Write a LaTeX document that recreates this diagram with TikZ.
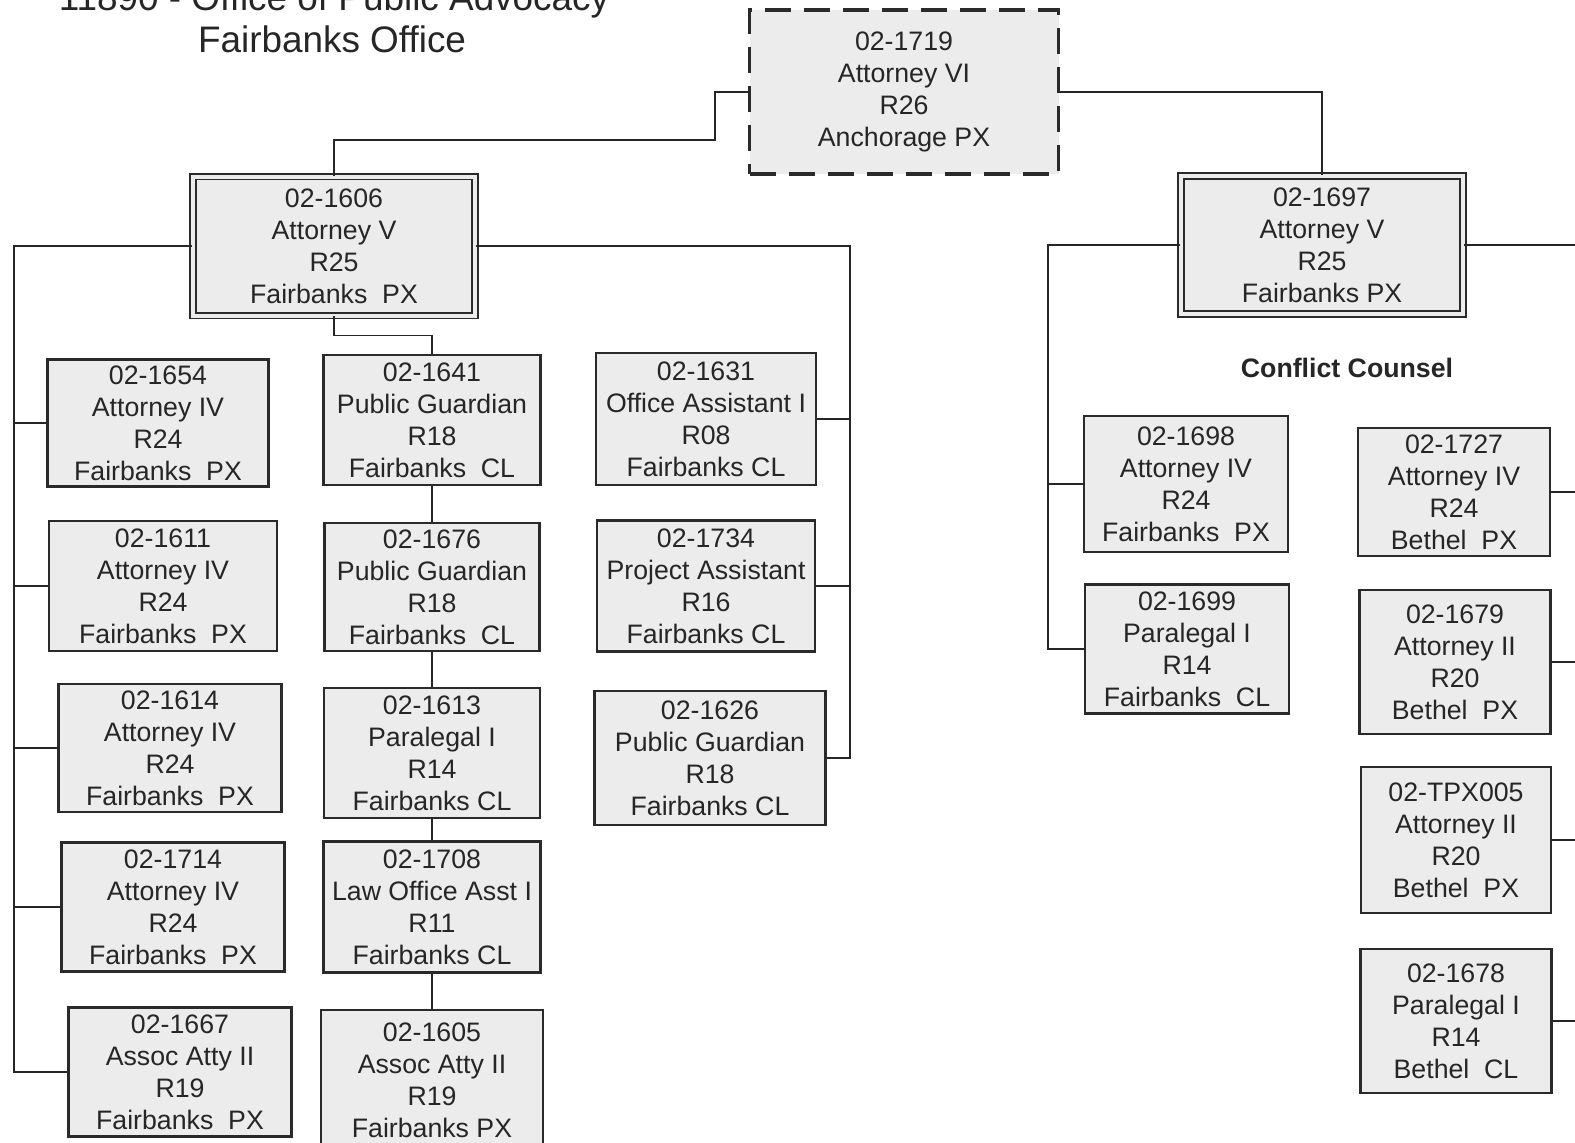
\documentclass[tikz,border=0pt]{standalone}
\usepackage{fontspec}
\setmainfont{Liberation Sans}
\definecolor{boxfill}{RGB}{236,236,236}
\definecolor{boxline}{RGB}{42,42,42}
\definecolor{ink}{RGB}{38,38,38}
\tikzset{
  posbox/.style={draw=boxline, fill=boxfill, line width=0.8pt, align=center, text=ink,
    font=\fontsize{7.6}{9.1}\selectfont, inner sep=1pt},
  headbox/.style={posbox, double=boxfill, double distance=0.4mm, line width=0.55pt},
  chiefbox/.style={posbox, dash pattern=on 2.6mm off 1.3mm, line width=0.9pt},
  link/.style={draw=ink, line width=0.45pt},
  heading/.style={text=ink, font=\fontsize{10.5}{12.8}\selectfont, anchor=base},
}

\begin{document}
\begin{tikzpicture}[x=0.1mm,y=-0.1mm]
\useasboundingbox (0,0) rectangle (1575,1142);
\fill[white] (0,0) rectangle (1575,1142);
\clip (0,0) rectangle (1575,1142);

% title
\node[heading] (titleA) at (334,10) {11890 - Office of Public Advocacy};
\node[heading] (titleB) at (332,52) {Fairbanks Office};

% director
\node[chiefbox, minimum width=30.9mm, minimum height=16.4mm] (p1719) at (904,92)
  {02-1719\\Attorney VI\\R26\\Anchorage PX};

% supervisors
\node[headbox, minimum width=28.2mm, minimum height=13.9mm] (p1606) at (334,246)
  {02-1606\\Attorney V\\R25\\Fairbanks\ \ PX};
\node[headbox, minimum width=28.2mm, minimum height=13.8mm] (p1697) at (1322,245)
  {02-1697\\Attorney V\\R25\\Fairbanks PX};

% first column
\node[posbox, minimum width=22.1mm, minimum height=12.7mm] (p1654) at (158,423)
  {02-1654\\Attorney IV\\R24\\Fairbanks\ \ PX};
\node[posbox, minimum width=22.8mm, minimum height=13.0mm] (p1611) at (163,586)
  {02-1611\\Attorney IV\\R24\\Fairbanks\ \ PX};
\node[posbox, minimum width=22.3mm, minimum height=12.8mm] (p1614) at (170,748)
  {02-1614\\Attorney IV\\R24\\Fairbanks\ \ PX};
\node[posbox, minimum width=22.3mm, minimum height=12.9mm] (p1714) at (173,907)
  {02-1714\\Attorney IV\\R24\\Fairbanks\ \ PX};
\node[posbox, minimum width=22.3mm, minimum height=12.9mm] (p1667) at (180,1072)
  {02-1667\\Assoc Atty II\\R19\\Fairbanks\ \ PX};

% second column
\node[posbox, minimum width=21.7mm, minimum height=13.0mm] (p1641) at (432,420)
  {02-1641\\Public Guardian\\R18\\Fairbanks\ \ CL};
\node[posbox, minimum width=21.5mm, minimum height=12.8mm] (p1676) at (432,587)
  {02-1676\\Public Guardian\\R18\\Fairbanks\ \ CL};
\node[posbox, minimum width=21.6mm, minimum height=13.0mm] (p1613) at (432,753)
  {02-1613\\Paralegal I\\R14\\Fairbanks CL};
\node[posbox, minimum width=21.7mm, minimum height=13.1mm] (p1708) at (432,907)
  {02-1708\\Law Office Asst I\\R11\\Fairbanks CL};
\node[posbox, minimum width=22.2mm, minimum height=14.0mm] (p1605) at (432,1080)
  {02-1605\\Assoc Atty II\\R19\\Fairbanks PX};

% third column
\node[posbox, minimum width=22.0mm, minimum height=13.2mm] (p1631) at (706,419)
  {02-1631\\Office Assistant I\\R08\\Fairbanks CL};
\node[posbox, minimum width=21.8mm, minimum height=13.1mm] (p1734) at (706,586)
  {02-1734\\Project Assistant\\R16\\Fairbanks CL};
\node[posbox, minimum width=23.1mm, minimum height=13.4mm] (p1626) at (710,758)
  {02-1626\\Public Guardian\\R18\\Fairbanks CL};

% conflict counsel
\node[text=ink, font=\fontsize{7.6}{9.1}\selectfont\bfseries] (cc) at (1347,368) {Conflict Counsel};
\node[posbox, minimum width=20.4mm, minimum height=13.6mm] (p1698) at (1186,484)
  {02-1698\\Attorney IV\\R24\\Fairbanks\ \ PX};
\node[posbox, minimum width=20.4mm, minimum height=12.9mm] (p1699) at (1187,649)
  {02-1699\\Paralegal I\\R14\\Fairbanks\ \ CL};
\node[posbox, minimum width=19.2mm, minimum height=12.8mm] (p1727) at (1454,492)
  {02-1727\\Attorney IV\\R24\\Bethel\ \ PX};
\node[posbox, minimum width=19.1mm, minimum height=14.4mm] (p1679) at (1455,662)
  {02-1679\\Attorney II\\R20\\Bethel\ \ PX};
\node[posbox, minimum width=19.0mm, minimum height=14.6mm] (pTPX005) at (1456,840)
  {02-TPX005\\Attorney II\\R20\\Bethel\ \ PX};
\node[posbox, minimum width=19.1mm, minimum height=14.4mm] (p1678) at (1456,1021)
  {02-1678\\Paralegal I\\R14\\Bethel\ \ CL};

% bus lines
\coordinate (lbus) at (14,0);
\coordinate (mbus) at (850,0);
\coordinate (cbus) at (1048,0);
\coordinate (rbus) at (1600,0);

% connectors
\draw[link] (p1719.west) -| (715,140) -| (p1606.north);
\draw[link] (p1719.east) -| (p1697.north);

\draw[link] (p1606.west) -| (p1667.west -| lbus) -- (p1667.west);
\foreach \n in {1654,1611,1614,1714}
  \draw[link] (p\n.west) -- (p\n.west -| lbus);

\draw[link] (p1606.east) -| (p1626.east -| mbus) -- (p1626.east);
\foreach \n in {1631,1734}
  \draw[link] (p\n.east) -- (p\n.east -| mbus);

\draw[link] (p1606.south) -- ++(0,19) -| (p1641.north);
\draw[link] (p1641.south) -- (p1676.north);
\draw[link] (p1676.south) -- (p1613.north);
\draw[link] (p1613.south) -- (p1708.north);
\draw[link] (p1708.south) -- (p1605.north);

\draw[link] (p1697.west) -| (p1699.west -| cbus) -- (p1699.west);
\draw[link] (p1698.west) -- (p1698.west -| cbus);

\draw[link] (p1697.east) -| (p1678.east -| rbus);
\foreach \n in {1727,1679,TPX005,1678}
  \draw[link] (p\n.east) -- (p\n.east -| rbus);
\end{tikzpicture}
\end{document}
